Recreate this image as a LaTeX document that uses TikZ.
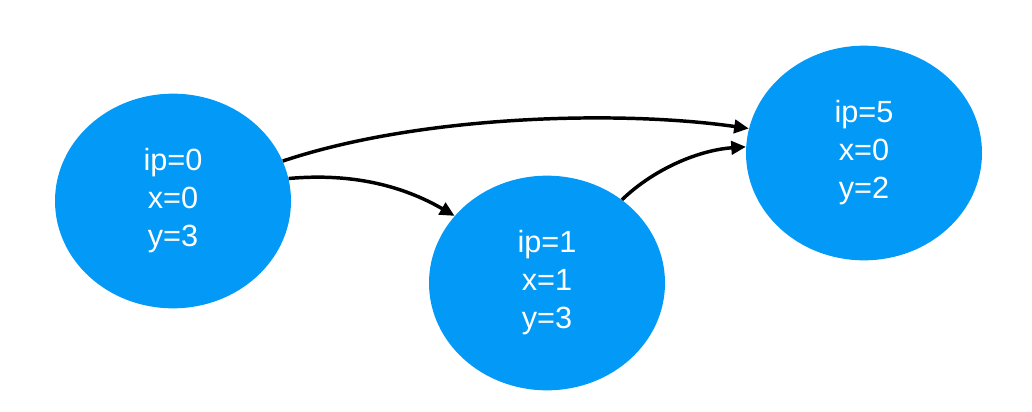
\documentclass[tikz,border=0pt]{standalone}
\usepackage{fontspec}
\setmainfont{Liberation Sans}
\usetikzlibrary{shapes.geometric,arrows.meta}
\definecolor{nodeblue}{RGB}{2,154,246}
\begin{document}
\begin{tikzpicture}[x=0.75pt,y=-0.75pt,
  state/.style={ellipse,fill=nodeblue,draw=none,inner sep=0pt,
    minimum width=177pt,minimum height=161pt,text=white,align=center,
    font=\fontsize{23}{28.5}\selectfont},
  link/.style={line width=2.6pt,-{Triangle[length=11pt,width=10pt]}}]
\useasboundingbox (0,0) rectangle (1032,411);
\node[state] (L) at (173,201) {ip=0\\x=0\\y=3};
\node[state] (M) at (547,283) {ip=1\\x=1\\y=3};
\node[state] (R) at (864,153) {ip=5\\x=0\\y=2};
\draw[link] (L.20) .. controls (420,115) and (620,110) .. (R.168);
\draw[link] (L.11) .. controls (360,172) and (410,190) .. (M.144);
\draw[link] (M.48) .. controls (655,168) and (700,150) .. (R.177);
\end{tikzpicture}
\end{document}
